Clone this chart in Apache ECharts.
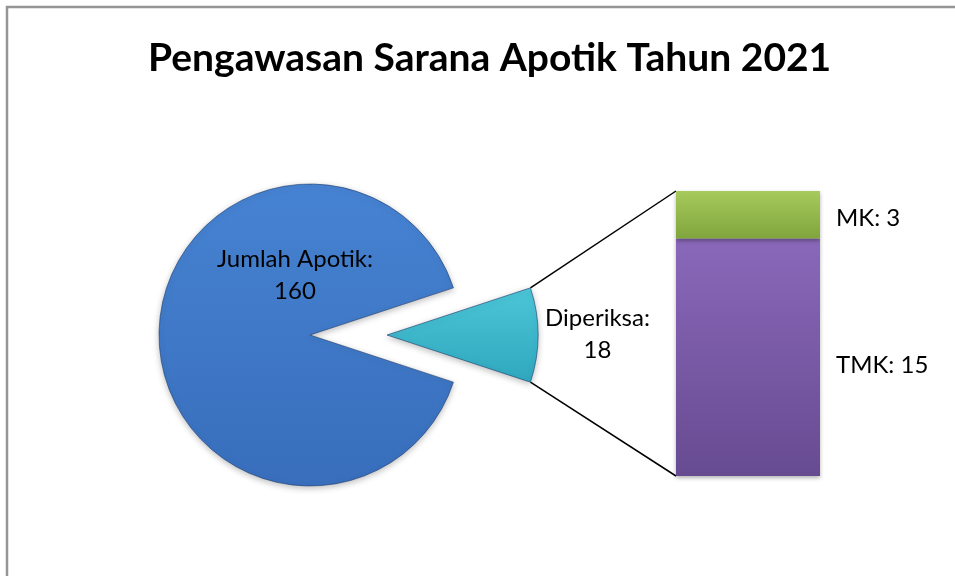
<!DOCTYPE html>
<html lang="id">
<head>
<meta charset="UTF-8">
<title>Pengawasan Sarana Apotik Tahun 2021</title>
<script src="https://cdn.jsdelivr.net/npm/echarts@6/dist/echarts.min.js"></script>
<style>
  html, body { margin: 0; padding: 0; background: #fff; }
  #chart { width: 955px; height: 576px; }
</style>
</head>
<body>
<div id="chart"></div>
<script>
// data
var pieNames = ['Diperiksa', 'Jumlah Apotik'];
var pieValues = [18, 160];
var barNames = ['TMK', 'MK'];
var barValues = [15, 3];

// layout
var pieCenter = [310, 335];
var pieRadius = 151;
var explode = 77;
var barGrid = { left: 676, top: 191, width: 144, height: 285 };
var fontFam = 'Lato, "Liberation Sans", sans-serif';

var total = pieValues[0] + pieValues[1];
var halfAngle = 180 * pieValues[0] / total;   // setengah sudut irisan Diperiksa
var barTotal = barValues[0] + barValues[1];

function grad(top, bottom) {
    return new echarts.graphic.LinearGradient(0, 0, 0, 1, [
        { offset: 0, color: top },
        { offset: 1, color: bottom }
    ]);
}

var pieColors = [grad('#4cc6d8', '#2fa7bd'), grad('#4683d2', '#386ebc')];
var barColors = [grad('#8a68ba', '#674b91'), grad('#a6ca5c', '#80a53c')];

var labelFont = { fontFamily: fontFam, fontSize: 24, lineHeight: 32, color: '#000' };

// satu seri pie per irisan: irisan lain dibuat transparan supaya Diperiksa bisa "meledak"
function pieSeries(showIndex, center) {
    return {
        type: 'pie',
        center: center,
        radius: pieRadius,
        startAngle: halfAngle,
        clockwise: true,
        avoidLabelOverlap: false,
        emphasis: { disabled: true },
        label: Object.assign({ show: true, position: 'inside', formatter: '{b}:\n{c}', align: 'center' }, labelFont),
        labelLine: { show: false },
        labelLayout: function (p) {
            if (p.dataIndex === 1) {
                return { x: pieCenter[0] - 15, y: pieCenter[1] - 60, align: 'center', verticalAlign: 'middle' };
            }
            return {
                x: center[0] + pieRadius + 7 + p.labelRect.width / 2,
                y: center[1] - 1,
                align: 'center',
                verticalAlign: 'middle'
            };
        },
        data: pieNames.map(function (n, i) {
            var shown = i === showIndex;
            return {
                name: n,
                value: pieValues[i],
                label: { show: shown },
                itemStyle: shown ? {
                    color: pieColors[i],
                    borderColor: 'rgba(30,60,110,0.6)',
                    borderWidth: 1,
                    shadowBlur: 6,
                    shadowColor: 'rgba(0,0,0,0.25)',
                    shadowOffsetY: 2
                } : { color: 'transparent', borderWidth: 0 }
            };
        })
    };
}

var myChart = echarts.init(document.getElementById('chart'));

var option = {
    backgroundColor: '#fff',
    animation: false,
    title: {
        text: 'Pengawasan Sarana Apotik Tahun 2021',
        left: 143,
        top: 34,
        textStyle: { fontFamily: fontFam, fontSize: 39, fontWeight: 'bold', color: '#000' }
    },
    grid: barGrid,
    xAxis: { type: 'category', data: ['Diperiksa'], show: false },
    yAxis: { type: 'value', min: 0, max: barTotal, show: false },
    series: [
        pieSeries(1, pieCenter),
        pieSeries(0, [pieCenter[0] + explode, pieCenter[1]])
    ].concat(barNames.map(function (n, i) {
        return {
            type: 'bar',
            name: n,
            stack: 'diperiksa',
            barWidth: '100%',
            data: [barValues[i]],
            itemStyle: {
                color: barColors[i],
                shadowBlur: 4,
                shadowColor: 'rgba(0,0,0,0.3)',
                shadowOffsetY: 2
            },
            label: Object.assign({
                show: true,
                position: 'right',
                distance: 16,
                offset: [0, i === 0 ? 8 : 4],
                formatter: '{a}: {c}'
            }, labelFont),
            emphasis: { disabled: true }
        };
    }))
};

myChart.setOption(option);

// garis penghubung irisan Diperiksa ke batang
var rad = halfAngle * Math.PI / 180;
var sx = pieCenter[0] + explode + pieRadius * Math.cos(rad);
var syTop = pieCenter[1] - pieRadius * Math.sin(rad);
var syBot = pieCenter[1] + pieRadius * Math.sin(rad);
var pTop = myChart.convertToPixel({ gridIndex: 0 }, [0, barTotal]);
var pBot = myChart.convertToPixel({ gridIndex: 0 }, [0, 0]);
var barLeft = barGrid.left;

myChart.setOption({
    graphic: [
        {
            type: 'rect',
            shape: { x: 7, y: 7, width: 1000, height: 700 },
            style: { fill: 'none', stroke: '#959595', lineWidth: 2.5 },
            z: 100
        },
        {
            type: 'line',
            shape: { x1: sx, y1: syTop, x2: barLeft, y2: pTop[1] },
            style: { stroke: '#000', lineWidth: 1.5 }
        },
        {
            type: 'line',
            shape: { x1: sx, y1: syBot, x2: barLeft, y2: pBot[1] },
            style: { stroke: '#000', lineWidth: 1.5 }
        }
    ]
});
</script>
</body>
</html>
